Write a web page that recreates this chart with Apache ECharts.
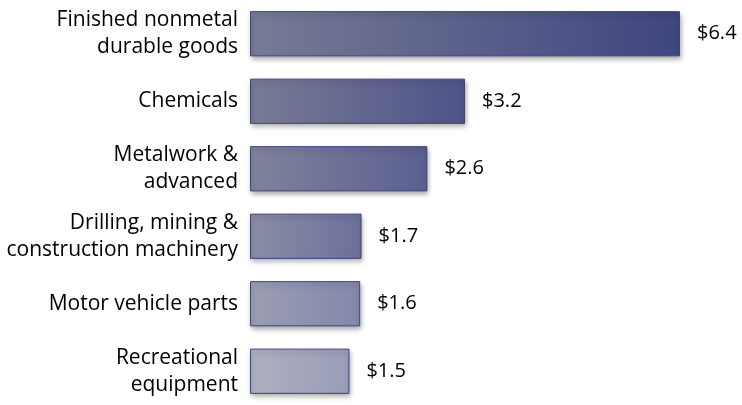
<!DOCTYPE html>
<html>
<head>
<meta charset="utf-8">
<script src="https://cdn.jsdelivr.net/npm/echarts@6/dist/echarts.min.js"></script>
<style>html,body{margin:0;padding:0;background:#fff;}#c{width:742px;height:405px;}</style>
</head>
<body>
<div id="c"></div>
<script>
var categories = [
  "Finished nonmetal\ndurable goods",
  "Chemicals",
  "Metalwork &\nadvanced",
  "Drilling, mining &\nconstruction machinery",
  "Motor vehicle parts",
  "Recreational\nequipment"
];
var values = [6.4, 3.2, 2.64, 1.66, 1.64, 1.48];
var barLeftColors  = ["#777b95", "#797c95", "#80839a", "#8b8ea4", "#9c9eb3", "#aeb0c1"];
var barRightColors = ["#3f4580", "#4e5389", "#5b5f91", "#6c709b", "#8487a9", "#9a9db8"];

var chart = echarts.init(document.getElementById('c'), null, {renderer: 'canvas'});
var FONT = '"Open Sans", sans-serif';
var catData = categories.map(function (c, i) {
  return i === 2 ? {value: c, textStyle: {padding: [0, 0, 10, 0]}} : c;
});
chart.setOption({
  animation: false,
  grid: {left: 250, right: 62, top: -1, bottom: -4, containLabel: false},
  xAxis: {type: 'value', min: 0, max: 6.4, show: false},
  yAxis: {
    type: 'category', data: catData, inverse: true,
    axisLine: {show: false}, axisTick: {show: false}, splitLine: {show: false},
    axisLabel: {margin: 12, fontFamily: FONT, fontSize: 21, lineHeight: 27, color: '#000', align: 'right'}
  },
  series: [{
    type: 'bar',
    barCategoryGap: '33%',
    data: values.map(function (v, i) {
      return {
        value: v,
        itemStyle: {
          color: {type: 'linear', x: 0, y: 0, x2: 1, y2: 0, colorStops: [
            {offset: 0, color: barLeftColors[i]}, {offset: 1, color: barRightColors[i]}]},
          borderColor: '#3d4282', borderWidth: 1,
          shadowColor: 'rgba(0,0,0,0.35)', shadowBlur: 5, shadowOffsetX: 1, shadowOffsetY: 3
        }
      };
    }),
    label: {
      show: true, position: 'right', distance: 17,
      fontFamily: FONT, fontSize: 20, color: '#000',
      formatter: function (p) { return '$' + p.value.toFixed(1); }
    }
  }]
});
</script>
</body>
</html>
